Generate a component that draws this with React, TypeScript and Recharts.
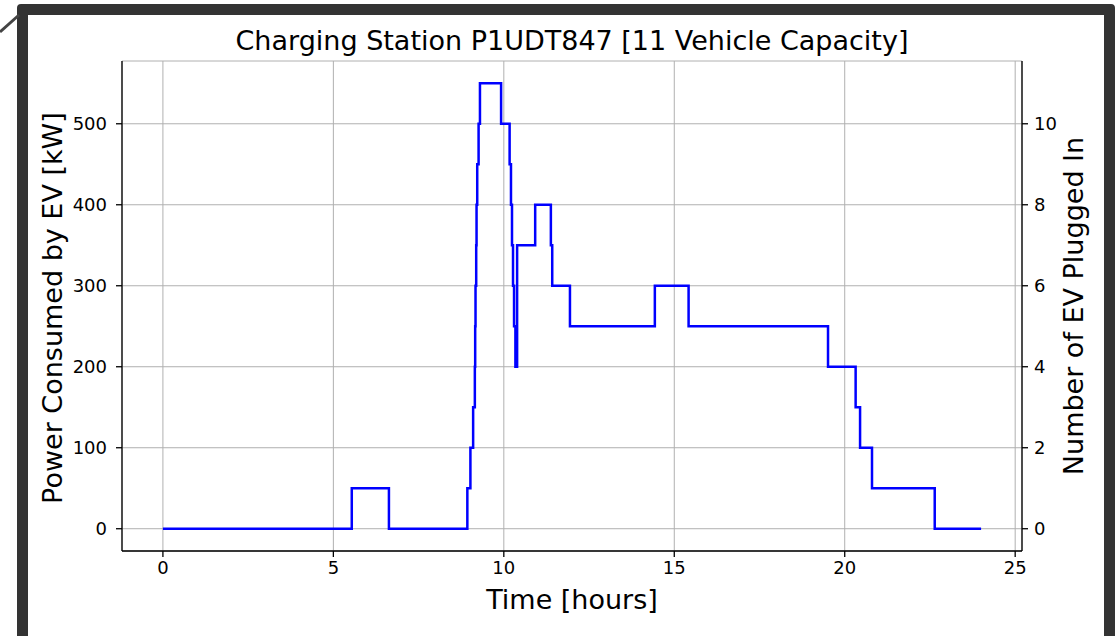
import React from 'react';
import { LineChart, Line, XAxis, YAxis, CartesianGrid } from 'recharts';

// step points: time in hours, power in kW (value holds until next point)
const hours = [
  0, 5.54, 6.63, 8.93, 9.02, 9.1, 9.15, 9.16, 9.17, 9.19, 9.2, 9.22, 9.26, 9.3,
  9.92, 10.17, 10.21, 10.24, 10.27, 10.3, 10.34, 10.39, 10.92, 11.38, 11.42,
  11.94, 14.43, 15.42, 19.51, 20.32, 20.45, 20.8, 22.64, 24.0,
];
const powerKw = [
  0, 50, 0, 50, 100, 150, 200, 250, 300, 350, 400, 450, 500, 550,
  500, 450, 400, 350, 300, 250, 200, 350, 400, 350, 300,
  250, 300, 250, 200, 150, 100, 50, 0, 0,
];

const xTicks = [0, 5, 10, 15, 20, 25];
const powerTicks = [0, 100, 200, 300, 400, 500];
const evTicks = [0, 2, 4, 6, 8, 10];

const chartData = hours.map((t, i) => ({ t, kw: powerKw[i] }));

const font = 'DejaVu Sans, sans-serif';
const tickStyle = { fill: '#000', fontSize: 18, fontFamily: font };

const textBase: React.CSSProperties = {
  position: 'absolute', textAlign: 'center', fontFamily: font, color: '#000', whiteSpace: 'nowrap',
};

export default function App() {
  return (
    <div style={{ position: 'absolute', left: 0, top: 0, width: 1119, height: 636, background: '#fff', overflow: 'hidden' }}>
      {/* screenshot frame */}
      <div
        style={{
          position: 'absolute', left: 17, top: 4, width: 1076, height: 660,
          border: '11px solid #333', borderRadius: 4, boxSizing: 'content-box',
        }}
      />
      <svg style={{ position: 'absolute', left: 0, top: 0 }} width={30} height={40}>
        <line x1={0} y1={32} x2={19} y2={15} stroke="#444" strokeWidth={3} />
      </svg>

      <div style={{ ...textBase, left: 122, width: 900, top: 25, fontSize: 27, lineHeight: '32px' }}>
        Charging Station P1UDT847 [11 Vehicle Capacity]
      </div>
      <div style={{ ...textBase, left: 122, width: 900, top: 584, fontSize: 27, lineHeight: '32px' }}>
        Time [hours]
      </div>
      <div style={{ ...textBase, left: 53, top: 308, width: 600, marginLeft: -300, marginTop: -16, transform: 'rotate(-90deg)', fontSize: 27, lineHeight: '32px' }}>
        Power Consumed by EV [kW]
      </div>
      <div style={{ ...textBase, left: 1074, top: 306, width: 600, marginLeft: -300, marginTop: -16, transform: 'rotate(-90deg)', fontSize: 27, lineHeight: '32px' }}>
        Number of EV Plugged In
      </div>

      <div style={{ position: 'absolute', left: 0, top: 0 }}>
        <LineChart width={1119} height={636} data={chartData} margin={{ top: 61, right: 37, bottom: 45, left: 42 }}>
          <CartesianGrid stroke="#b0b0b0" strokeWidth={1} />
          <XAxis
            type="number"
            dataKey="t"
            domain={[-1.2, 25.2]}
            ticks={xTicks}
            allowDataOverflow
            height={40}
            tick={tickStyle}
            tickSize={6}
            tickMargin={4}
            axisLine={{ stroke: '#000', strokeWidth: 1.3 }}
            tickLine={{ stroke: '#000', strokeWidth: 1.3 }}
          />
          <XAxis
            xAxisId="top"
            orientation="top"
            type="number"
            domain={[-1.2, 25.2]}
            allowDataOverflow
            height={0}
            tick={false}
            tickLine={false}
            axisLine={{ stroke: '#000', strokeWidth: 1.3 }}
          />
          <YAxis
            type="number"
            domain={[-27.5, 577.5]}
            ticks={powerTicks}
            allowDataOverflow
            width={80}
            tick={tickStyle}
            tickSize={6}
            tickMargin={9}
            axisLine={{ stroke: '#000', strokeWidth: 1.3 }}
            tickLine={{ stroke: '#000', strokeWidth: 1.3 }}
          />
          <YAxis
            yAxisId="right"
            orientation="right"
            type="number"
            domain={[-0.55, 11.55]}
            ticks={evTicks}
            allowDataOverflow
            width={60}
            tick={tickStyle}
            tickSize={6}
            tickMargin={6}
            axisLine={{ stroke: '#000', strokeWidth: 1.3 }}
            tickLine={{ stroke: '#000', strokeWidth: 1.3 }}
          />
          <Line
            type="stepAfter"
            dataKey="kw"
            stroke="#0000ff"
            strokeWidth={2.5}
            dot={false}
            activeDot={false}
            isAnimationActive={false}
          />
        </LineChart>
      </div>
    </div>
  );
}
